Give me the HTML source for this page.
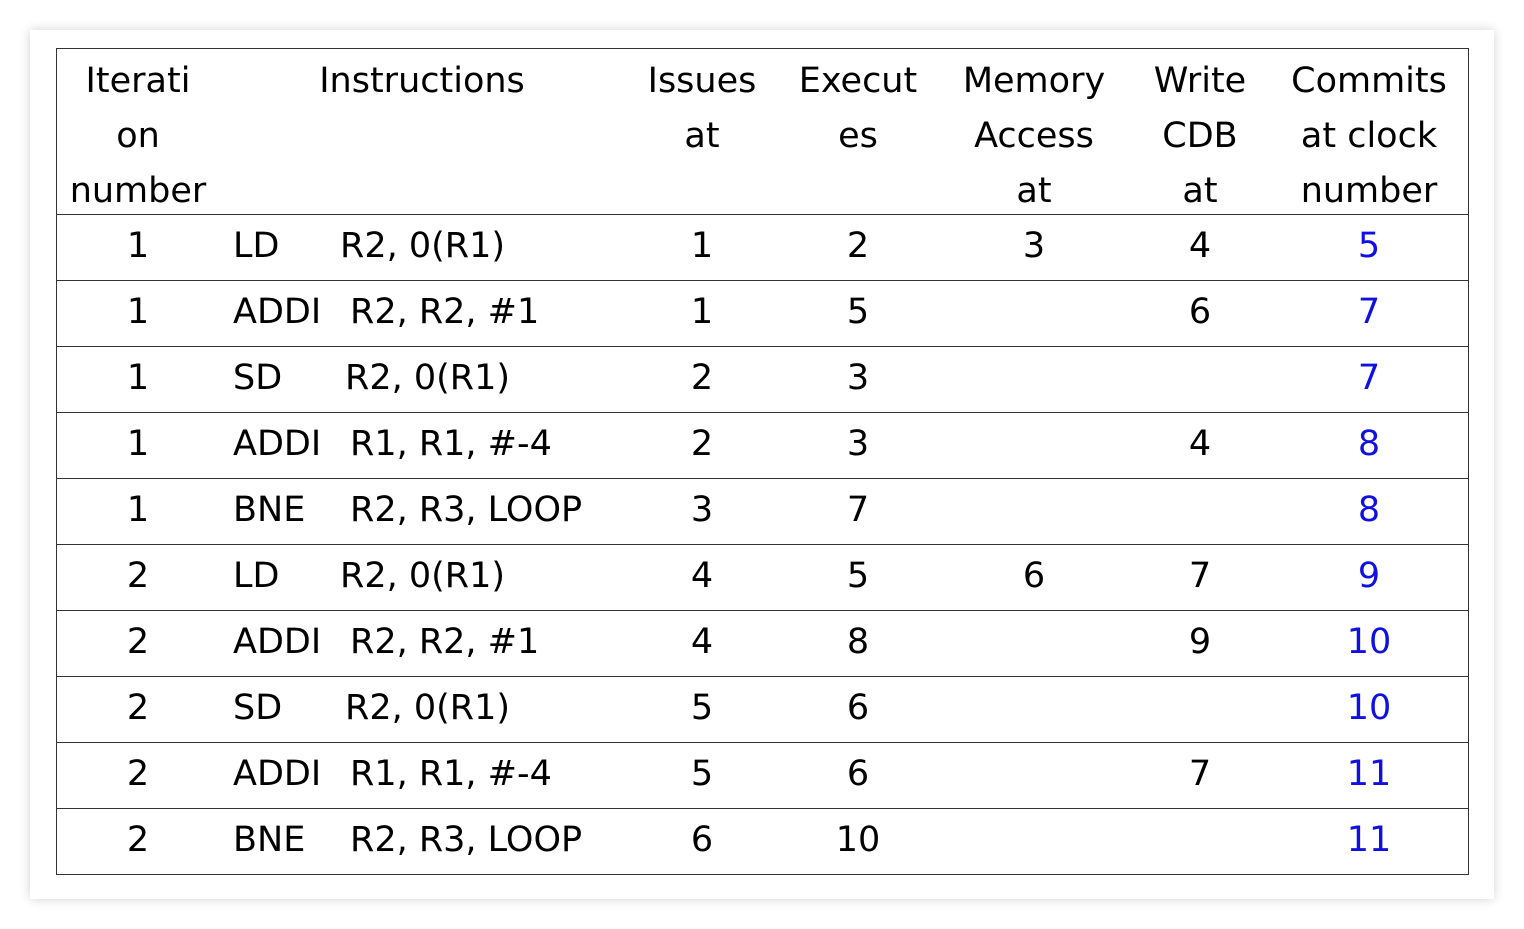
<!DOCTYPE html>
<html><head><meta charset="utf-8"><style>
html,body{margin:0;padding:0;background:#fff;}
body{width:1524px;height:929px;position:relative;overflow:hidden;font-family:"DejaVu Sans","Liberation Sans",sans-serif;font-size:35px;color:#000;}
.card{position:absolute;left:30px;top:30px;width:1464px;height:869px;background:#fff;box-shadow:0 0 10px rgba(0,0,0,0.18);}
.tbl{position:absolute;left:56px;top:48px;width:1411px;height:825px;border:1px solid #333;}
.hl{position:absolute;left:56px;width:1413px;height:1px;background:#333;}
.t{position:absolute;white-space:nowrap;line-height:40px;}
.c{text-align:center;transform:translateX(-50%);}
.b{color:#1010e0;}
</style></head><body>
<div class="card"></div>
<div class="tbl"></div>
<div class="hl" style="top:214px"></div>
<div class="hl" style="top:280px"></div>
<div class="hl" style="top:346px"></div>
<div class="hl" style="top:412px"></div>
<div class="hl" style="top:478px"></div>
<div class="hl" style="top:544px"></div>
<div class="hl" style="top:610px"></div>
<div class="hl" style="top:676px"></div>
<div class="hl" style="top:742px"></div>
<div class="hl" style="top:808px"></div>

<div class="t c" style="left:138px;top:54px;line-height:55px">Iterati<br>on<br>number</div>
<div class="t c" style="left:422px;top:54px;line-height:55px">Instructions</div>
<div class="t c" style="left:702px;top:54px;line-height:55px">Issues<br>at</div>
<div class="t c" style="left:858px;top:54px;line-height:55px">Execut<br>es</div>
<div class="t c" style="left:1034px;top:54px;line-height:55px">Memory<br>Access<br>at</div>
<div class="t c" style="left:1200px;top:54px;line-height:55px">Write<br>CDB<br>at</div>
<div class="t c" style="left:1369px;top:54px;line-height:55px">Commits<br>at clock<br>number</div>

<div class="t c" style="left:138px;top:226px">1</div><div class="t" style="left:233px;top:226px">LD</div><div class="t" style="left:340px;top:226px">R2, 0(R1)</div><div class="t c" style="left:702px;top:226px">1</div><div class="t c" style="left:858px;top:226px">2</div><div class="t c" style="left:1034px;top:226px">3</div><div class="t c" style="left:1200px;top:226px">4</div><div class="t c b" style="left:1369px;top:226px">5</div>

<div class="t c" style="left:138px;top:292px">1</div><div class="t" style="left:233px;top:292px">ADDI</div><div class="t" style="left:350px;top:292px">R2, R2, #1</div><div class="t c" style="left:702px;top:292px">1</div><div class="t c" style="left:858px;top:292px">5</div><div class="t c" style="left:1200px;top:292px">6</div><div class="t c b" style="left:1369px;top:292px">7</div>

<div class="t c" style="left:138px;top:358px">1</div><div class="t" style="left:233px;top:358px">SD</div><div class="t" style="left:345px;top:358px">R2, 0(R1)</div><div class="t c" style="left:702px;top:358px">2</div><div class="t c" style="left:858px;top:358px">3</div><div class="t c b" style="left:1369px;top:358px">7</div>

<div class="t c" style="left:138px;top:424px">1</div><div class="t" style="left:233px;top:424px">ADDI</div><div class="t" style="left:350px;top:424px">R1, R1, #-4</div><div class="t c" style="left:702px;top:424px">2</div><div class="t c" style="left:858px;top:424px">3</div><div class="t c" style="left:1200px;top:424px">4</div><div class="t c b" style="left:1369px;top:424px">8</div>

<div class="t c" style="left:138px;top:490px">1</div><div class="t" style="left:233px;top:490px">BNE</div><div class="t" style="left:350px;top:490px">R2, R3, LOOP</div><div class="t c" style="left:702px;top:490px">3</div><div class="t c" style="left:858px;top:490px">7</div><div class="t c b" style="left:1369px;top:490px">8</div>

<div class="t c" style="left:138px;top:556px">2</div><div class="t" style="left:233px;top:556px">LD</div><div class="t" style="left:340px;top:556px">R2, 0(R1)</div><div class="t c" style="left:702px;top:556px">4</div><div class="t c" style="left:858px;top:556px">5</div><div class="t c" style="left:1034px;top:556px">6</div><div class="t c" style="left:1200px;top:556px">7</div><div class="t c b" style="left:1369px;top:556px">9</div>

<div class="t c" style="left:138px;top:622px">2</div><div class="t" style="left:233px;top:622px">ADDI</div><div class="t" style="left:350px;top:622px">R2, R2, #1</div><div class="t c" style="left:702px;top:622px">4</div><div class="t c" style="left:858px;top:622px">8</div><div class="t c" style="left:1200px;top:622px">9</div><div class="t c b" style="left:1369px;top:622px">10</div>

<div class="t c" style="left:138px;top:688px">2</div><div class="t" style="left:233px;top:688px">SD</div><div class="t" style="left:345px;top:688px">R2, 0(R1)</div><div class="t c" style="left:702px;top:688px">5</div><div class="t c" style="left:858px;top:688px">6</div><div class="t c b" style="left:1369px;top:688px">10</div>

<div class="t c" style="left:138px;top:754px">2</div><div class="t" style="left:233px;top:754px">ADDI</div><div class="t" style="left:350px;top:754px">R1, R1, #-4</div><div class="t c" style="left:702px;top:754px">5</div><div class="t c" style="left:858px;top:754px">6</div><div class="t c" style="left:1200px;top:754px">7</div><div class="t c b" style="left:1369px;top:754px">11</div>

<div class="t c" style="left:138px;top:820px">2</div><div class="t" style="left:233px;top:820px">BNE</div><div class="t" style="left:350px;top:820px">R2, R3, LOOP</div><div class="t c" style="left:702px;top:820px">6</div><div class="t c" style="left:858px;top:820px">10</div><div class="t c b" style="left:1369px;top:820px">11</div>
</body></html>
